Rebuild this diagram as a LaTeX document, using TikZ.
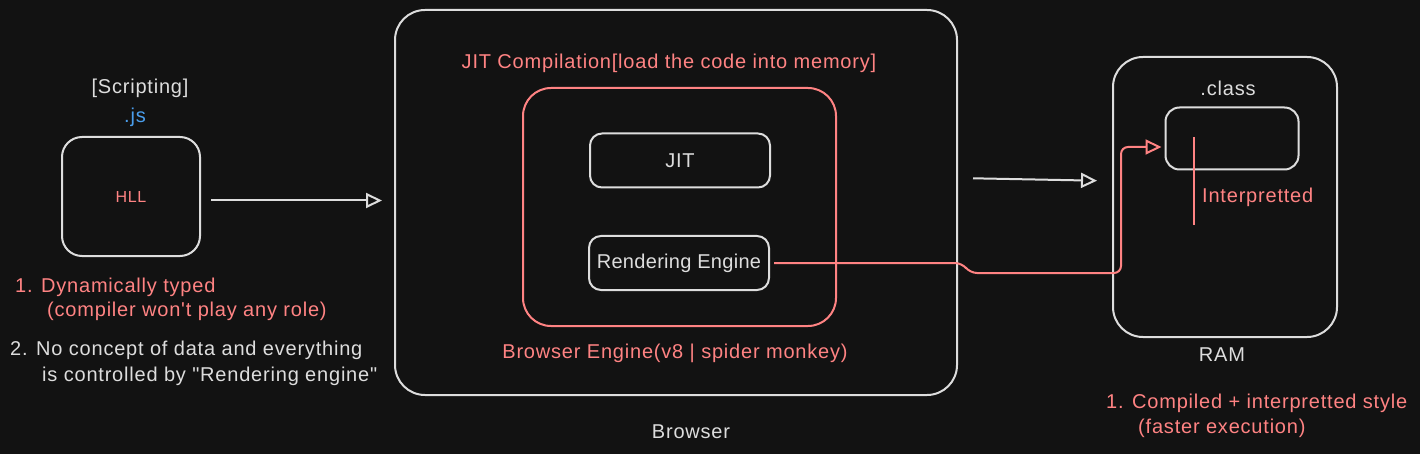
\documentclass[tikz,border=0pt]{standalone}
\usepackage{fontspec}
\setmainfont{Liberation Sans}[Ligatures=TeXOff,LetterSpace=4]
\usetikzlibrary{arrows.meta,calc}
\definecolor{bg}{HTML}{121212}
\definecolor{ink}{HTML}{DDDDDD}
\definecolor{salmon}{HTML}{FF8383}
\definecolor{jsblue}{HTML}{4A9EED}

\begin{document}
\begin{tikzpicture}[x=1pt,y=-1pt,every node/.style={font=\fontsize{20}{24}\selectfont}]
\tikzstyle{box}=[draw=ink,line width=2pt,inner sep=0pt,text=ink]
\tikzstyle{lbl}=[text=ink,inner sep=0pt]
\tikzstyle{note}=[text=salmon,inner sep=0pt]
\tikzstyle{tip}=[-{Triangle[open,length=16pt,width=15pt]}]

\fill[bg] (0,0) rectangle (1420,454);
\useasboundingbox (0,0) rectangle (1420,454);

\node[box,rounded corners=20pt,minimum width=138pt,minimum height=119pt] (hll) at (131,196.5) {};
\node[note,font=\fontsize{16}{18}\selectfont] (hlltxt) at (hll) {HLL};
\node[lbl] (scr) at (140,88) {[Scripting]};
\node[inner sep=0pt,text=jsblue] (js) at (135,117) {.js};

\node[note,align=left,anchor=north west,font=\fontsize{20}{24}\selectfont] (dyn) at (15,278)
  {1. Dynamically typed\\\hspace*{32pt}(compiler won't play any role)};
\node[lbl,align=left,anchor=north west,font=\fontsize{20}{26}\selectfont] (nodata) at (10,341)
  {2. No concept of data and everything\\\hspace*{32pt}is controlled by "Rendering engine"};

\node[box,rounded corners=30pt,minimum width=562pt,minimum height=385pt] (browser) at (676,202.5) {};
\node[note] (jitc) at (669,63) {JIT Compilation[load the code into memory]};
\node[box,draw=salmon,rounded corners=28pt,minimum width=313pt,minimum height=238pt] (engine) at (679.5,207) {};
\node[box,rounded corners=12pt,minimum width=180pt,minimum height=54pt] (jit) at (680,160.5) {JIT};
\node[box,rounded corners=12pt,minimum width=180pt,minimum height=54pt] (render) at (679,263)
  {\addfontfeatures{LetterSpace=1.5}Rendering Engine};
\node[note] (engtxt) at (675,353) {Browser Engine(v8 | spider monkey)};
\node[lbl] (brtxt) at (691,432) {Browser};

\node[box,rounded corners=30pt,minimum width=224pt,minimum height=280pt] (ram) at (1225,197) {};
\node[lbl] (clstxt) at (1228,88) {.class};
\node[box,rounded corners=14pt,minimum width=133pt,minimum height=62pt] (cls) at (1232,138.5) {};
\draw[salmon,line width=2pt] (1194,137) -- (1194,225);
\node[note,anchor=west] (interp) at (1202,197) {Interpretted};
\node[lbl] (ramtxt) at (1222,355) {RAM};
\node[note,align=left,anchor=north west,font=\fontsize{20}{25}\selectfont] (comp) at (1106,394)
  {1. Compiled + interpretted style\\\hspace*{32pt}(faster execution)};

\draw[ink,line width=2pt,tip,shorten <=10pt,shorten >=12pt] ($(hll.east)+(0,4)$) -- ($(browser.west)+(0,-2)$);
\draw[ink,line width=2pt,tip,shorten <=15pt,shorten >=15pt] ($(browser.east)+(0,-24.5)$) -- ($(ram.west)+(0,-16)$);
\draw[salmon,line width=2pt,tip,rounded corners=7pt,shorten <=4pt] (render.east) -- (962,263) -- (970,273)
  -- (1121,273) -- (1121,147) -- ($(cls.west)+(-3,8.5)$);
\end{tikzpicture}
\end{document}
